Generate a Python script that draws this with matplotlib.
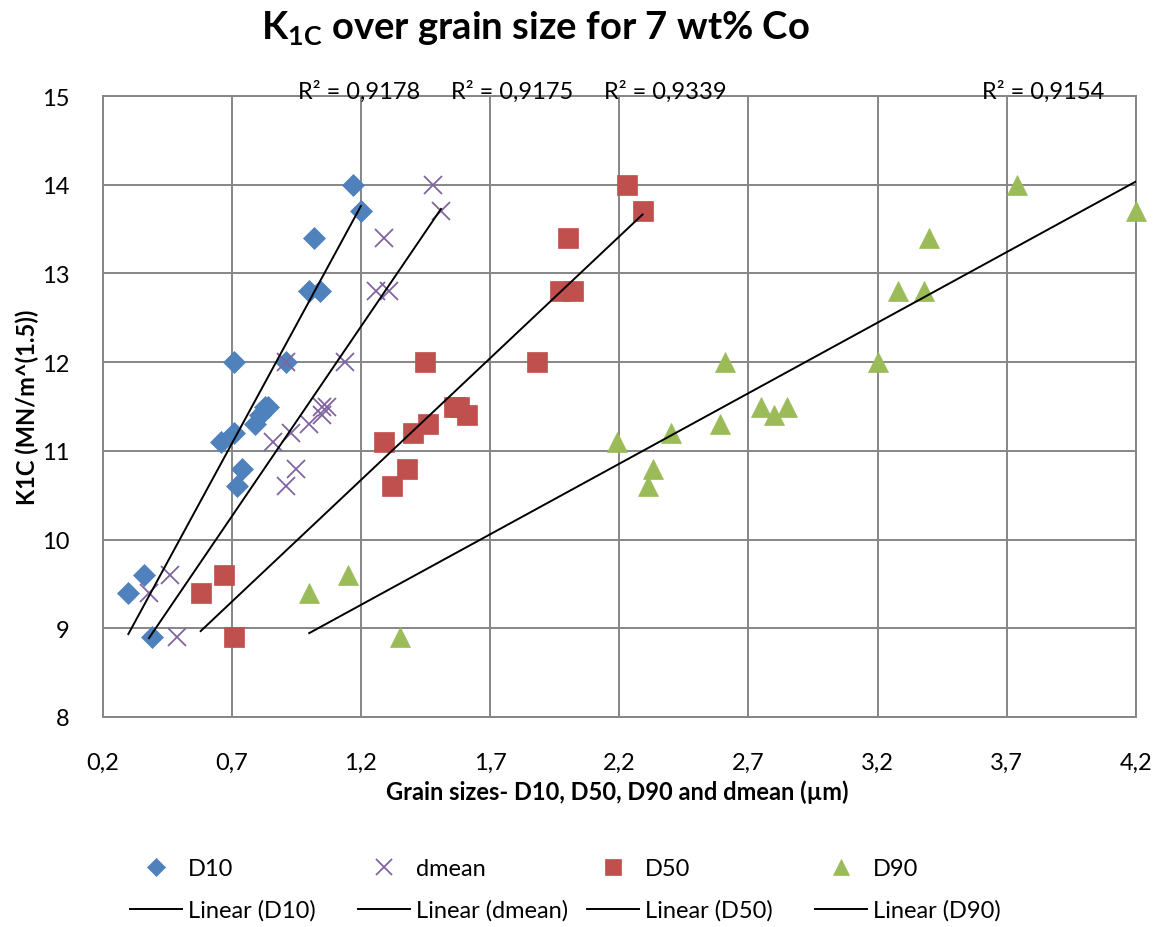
import numpy as np
import matplotlib
matplotlib.use("Agg")
import matplotlib.pyplot as plt
from matplotlib.ticker import FuncFormatter

# ---------------- data ----------------
k1c = [14.0, 13.7, 13.4, 12.8, 12.8, 12.0, 12.0, 11.5, 11.5, 11.4, 11.3, 11.2, 11.1, 10.8, 10.6, 9.6, 9.4, 8.9]
d10_x = [1.17, 1.20, 1.02, 1.00, 1.04, 0.71, 0.91, 0.83, 0.84, 0.81, 0.79, 0.71, 0.66, 0.74, 0.72, 0.36, 0.30, 0.39]
dmean_x = [1.48, 1.51, 1.29, 1.26, 1.31, 0.91, 1.14, 1.05, 1.07, 1.05, 1.00, 0.93, 0.86, 0.95, 0.91, 0.46, 0.38, 0.49]
d50_x = [2.23, 2.29, 2.00, 1.97, 2.02, 1.45, 1.88, 1.56, 1.58, 1.61, 1.46, 1.40, 1.29, 1.38, 1.32, 0.67, 0.58, 0.71]
d90_x = [3.74, 4.20, 3.40, 3.28, 3.38, 2.61, 3.20, 2.75, 2.85, 2.80, 2.59, 2.40, 2.19, 2.33, 2.31, 1.15, 1.00, 1.35]

series_names = ["D10", "dmean", "D50", "D90"]
r2_labels = ["R² = 0,9178", "R² = 0,9175", "R² = 0,9339", "R² = 0,9154"]

x_ticks = [0.2, 0.7, 1.2, 1.7, 2.2, 2.7, 3.2, 3.7, 4.2]
y_ticks = [8, 9, 10, 11, 12, 13, 14, 15]

title_text = r"K$_\mathbf{1C}$ over grain size for 7 wt% Co"
xlabel_text = "Grain sizes- D10, D50, D90 and dmean (µm)"
ylabel_text = "K1C (MN/m^(1.5))"

# ---------------- style ----------------
FONT = "Lato"
plt.rcParams["font.family"] = [FONT, "DejaVu Sans"]
plt.rcParams["mathtext.fontset"] = "custom"
plt.rcParams["mathtext.rm"] = FONT
plt.rcParams["mathtext.bf"] = FONT + ":bold"

colors = {"D10": "#4F81BD", "dmean": "#8064A2", "D50": "#C0504D", "D90": "#9BBB59"}
markers = {"D10": "D", "dmean": "x", "D50": "s", "D90": "^"}
msizes = {"D10": 11.0, "dmean": 13.5, "D50": 14.0, "D90": 14.0}
grid_c = "#868686"
FS = 17

W, H = 1161, 928
fig = plt.figure(figsize=(W / 100, H / 100), dpi=100)
L, R, T, B = 102.5, 1136, 97, 718
ax = fig.add_axes([L / W, 1 - B / H, (R - L) / W, (B - T) / H])

xs = {"D10": d10_x, "dmean": dmean_x, "D50": d50_x, "D90": d90_x}

handles_m, handles_l = [], []
for name in series_names:
    x = np.array(xs[name])
    y = np.array(k1c)
    mk = markers[name]
    if mk == "x":
        h, = ax.plot(x, y, ls="none", marker=mk, ms=msizes[name], mew=1.3,
                     color=colors[name], zorder=3, clip_on=False)
    else:
        h, = ax.plot(x, y, ls="none", marker=mk, ms=msizes[name], mew=0.5,
                     mfc=colors[name], mec=colors[name], zorder=3, clip_on=False)
    handles_m.append(h)
for name in series_names:
    x = np.array(xs[name])
    y = np.array(k1c)
    b, a = np.polyfit(x, y, 1)
    xx = np.array([x.min(), x.max()])
    hl, = ax.plot(xx, a + b * xx, color="black", lw=1.4, zorder=4)
    handles_l.append(hl)

ax.set_xlim(0.2, 4.2)
ax.set_ylim(8, 15)
ax.set_xticks(x_ticks)
ax.set_yticks(y_ticks)
ax.xaxis.set_major_formatter(FuncFormatter(lambda v, p: f"{v:.1f}".replace(".", ",")))
ax.yaxis.set_major_formatter(FuncFormatter(lambda v, p: f"{v:.0f}"))
ax.tick_params(axis="both", length=0, labelsize=FS, colors="black")
ax.tick_params(axis="x", pad=25)
ax.tick_params(axis="y", pad=24)
ax.grid(True, color=grid_c, lw=1.4, zorder=0)
ax.set_axisbelow(True)
for s in ax.spines.values():
    s.set_color(grid_c)
    s.set_linewidth(1.4)

# R² labels
r2_pos_px = [359, 512, 665, 1043]
for lab, px in zip(r2_labels, r2_pos_px):
    fig.text(px / W, 1 - 99 / H, lab, ha="center", va="baseline", fontsize=FS)

# title
fig.text(535 / W, 1 - 40 / H, title_text, ha="center", va="baseline",
         fontsize=27.5, fontweight="bold")

# axis labels
ax.set_xlabel(xlabel_text, fontsize=17, fontweight="bold")
ax.xaxis.set_label_coords((617 - L) / (R - L), (B - 780) / (B - T))
ax.set_ylabel(ylabel_text, fontsize=17, fontweight="bold")
ax.yaxis.set_label_coords((39 - L) / (R - L), 0.5)

# legend: four columns, two rows each
col_px = [130, 358, 587, 815]
for i, name in enumerate(series_names):
    fig.legend([handles_m[i], handles_l[i]], [name, f"Linear ({name})"],
               loc="center left", bbox_to_anchor=(col_px[i] / W, 1 - 890.5 / H),
               frameon=False, fontsize=FS, handlelength=2.2, handletextpad=0.26,
               borderpad=0, borderaxespad=0, labelspacing=0.85, markerscale=0.85)

fig.savefig("out.png", dpi=100)
